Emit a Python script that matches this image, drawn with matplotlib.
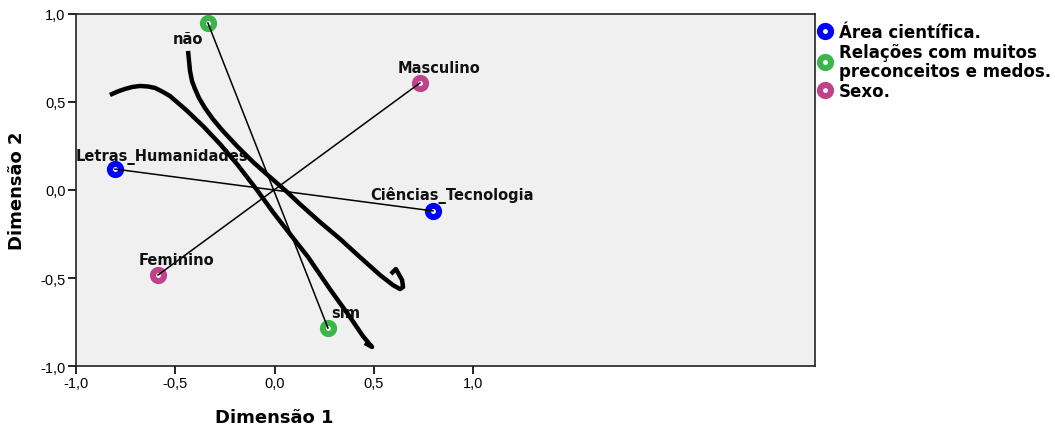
import matplotlib
matplotlib.use("Agg")
import matplotlib.pyplot as plt
import numpy as np

# Variable names (legend) and their category points
variables = ["Área científica.", "Relações com muitos\npreconceitos e medos.", "Sexo."]
var_colors = ["#0000ff", "#3cb54b", "#c0428a"]

cat_labels = [["Letras_Humanidades", "Ciências_Tecnologia"],
              ["não", "sim"],
              ["Masculino", "Feminino"]]
dim1 = [[-0.804, 0.797],
        [-0.336, 0.268],
        [0.731, -0.587]]
dim2 = [[0.119, -0.119],
        [0.949, -0.784],
        [0.608, -0.483]]

# label offsets in points (dx, dy)
label_offsets = [[(34, 9.5), (14, 11.5)],
                 [(-14.5, -11), (13, 11.5)],
                 [(13.5, 11.5), (13, 11.5)]]

# Hand-drawn curves on top of the map
curve_a_x = [-0.436, -0.431, -0.426, -0.416, -0.401, -0.381, -0.351, -0.311, -0.265,
             -0.190, -0.109, -0.024, 0.062, 0.127, 0.228, 0.329, 0.429, 0.530, 0.595,
             0.631, 0.646, 0.641, 0.610, 0.585]
curve_a_y = [0.790, 0.733, 0.676, 0.619, 0.574, 0.523, 0.466, 0.403, 0.341,
             0.250, 0.159, 0.074, -0.011, -0.080, -0.182, -0.278, -0.381, -0.483, -0.540,
             -0.563, -0.551, -0.511, -0.449, -0.477]

curve_b_x = [-0.829, -0.789, -0.753, -0.718, -0.678, -0.638, -0.602, -0.567, -0.527,
             -0.446, -0.361, -0.275, -0.190, -0.089, -0.009, 0.077, 0.168, 0.278,
             0.379, 0.444, 0.490, 0.454]
curve_b_y = [0.540, 0.560, 0.574, 0.585, 0.591, 0.588, 0.580, 0.560, 0.534,
             0.455, 0.364, 0.261, 0.148, 0.000, -0.125, -0.250, -0.381, -0.563,
             -0.722, -0.830, -0.892, -0.869]

x_ticks = [-1.0, -0.5, 0.0, 0.5, 1.0]
y_ticks = [-1.0, -0.5, 0.0, 0.5, 1.0]

bold_font = "DejaVu Sans"
tick_font = "Liberation Sans"

fig = plt.figure(figsize=(10.55, 4.27), dpi=100)
ax = fig.add_axes([0.0720, 0.1405, 0.7005, 0.8244])
ax.set_facecolor("#f0f0f0")

# category points (rings)
for i, var in enumerate(variables):
    ax.plot(dim1[i], dim2[i], linestyle="none", marker="o", markersize=8,
            markerfacecolor="white", markeredgecolor=var_colors[i],
            markeredgewidth=4.4, label=var, zorder=3)

# lines joining the two categories of each variable
for i in range(len(variables)):
    ax.plot(dim1[i], dim2[i], color="black", linewidth=1.1, zorder=4)

# point labels
for i in range(len(variables)):
    for j, lab in enumerate(cat_labels[i]):
        dx, dy = label_offsets[i][j]
        ax.annotate(lab, (dim1[i][j], dim2[i][j]), xytext=(dx, dy),
                    textcoords="offset points", ha="center", va="center",
                    fontsize=10.5, fontweight="bold", family=bold_font,
                    color="#111111", zorder=5)

# thick curves
ax.plot(curve_a_x, curve_a_y, color="black", linewidth=3.2,
        solid_joinstyle="round", solid_capstyle="butt", zorder=6)
ax.plot(curve_b_x, curve_b_y, color="black", linewidth=3.2,
        solid_joinstyle="round", solid_capstyle="butt", zorder=6)

ax.set_xlim(-1.0, 2.719)
ax.set_ylim(-1.0, 1.0)
ax.set_xticks(x_ticks)
ax.set_yticks(y_ticks)
ax.set_xticklabels([f"{v:.1f}".replace(".", ",") for v in x_ticks],
                   family=tick_font, fontsize=10.5)
ax.set_yticklabels([f"{v:.1f}".replace(".", ",") for v in y_ticks],
                   family=tick_font, fontsize=10.5)
ax.tick_params(direction="out", length=5.5, width=1.2, color="black", pad=2)
for s in ax.spines.values():
    s.set_linewidth(1.2)
    s.set_color("#222222")

ax.set_xlabel("Dimensão 1", family=bold_font, fontweight="bold", fontsize=13)
ax.set_ylabel("Dimensão 2", family=bold_font, fontweight="bold", fontsize=13)
ax.xaxis.set_label_coords(0.268, -0.118)
ax.yaxis.set_label_coords(-0.068, 0.5)

leg = ax.legend(loc="upper left", bbox_to_anchor=(0.7744, 0.944),
                bbox_transform=fig.transFigure, frameon=False,
                handlelength=1.0, handletextpad=0.3, borderpad=0,
                borderaxespad=0, labelspacing=0.12,
                prop={"family": bold_font, "weight": "bold", "size": 12})
for t in leg.get_texts():
    t.set_linespacing(1.06)

fig.savefig("out.png", dpi=100, facecolor="white")
